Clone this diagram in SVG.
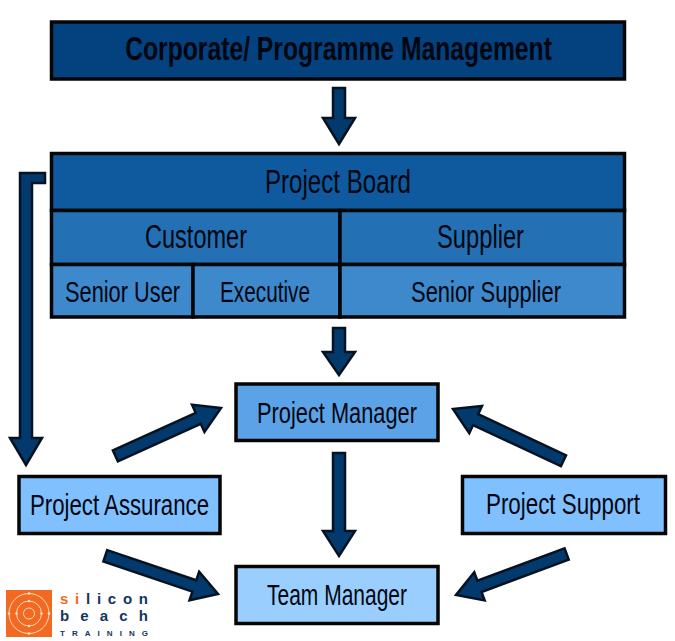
<svg xmlns="http://www.w3.org/2000/svg" width="675" height="641" viewBox="0 0 675 641">
<style>
.box{stroke:#050505;stroke-width:3.5}
.t{font-family:"Liberation Sans",Arial,sans-serif;fill:#00060f;text-anchor:middle}
.a{fill:#023a6e;stroke:#06121f;stroke-width:2.500;stroke-linejoin:miter}
.lg{font-family:"Liberation Sans",Arial,sans-serif;font-weight:700;fill:#12355f}
.d{fill:#fde6d6}
</style>
<rect width="675" height="641" fill="#fff"/>
<g id="corporate">
<rect class="box" x="51.500" y="22" width="573" height="57" fill="#03427f"/>
<text class="t" transform="translate(338.500,60) scale(0.75,1)" font-size="34" font-weight="700" textLength="569" lengthAdjust="spacingAndGlyphs">Corporate/ Programme Management</text>
</g>
<g id="project-board">
<rect class="box" x="51.500" y="153.500" width="573" height="57" fill="#0f5a9e"/>
<text class="t" x="338" y="193" font-size="34" textLength="146" lengthAdjust="spacingAndGlyphs">Project Board</text>
</g>
<g id="customer">
<rect class="box" x="51.500" y="210.500" width="288.500" height="54" fill="#2470b5"/>
<text class="t" x="196" y="248" font-size="33" textLength="102" lengthAdjust="spacingAndGlyphs">Customer</text>
</g>
<g id="supplier">
<rect class="box" x="340" y="210.500" width="284.500" height="54" fill="#2470b5"/>
<text class="t" x="480.500" y="248" font-size="33" textLength="87" lengthAdjust="spacingAndGlyphs">Supplier</text>
</g>
<g id="senior-user">
<rect class="box" x="51.500" y="264.500" width="141.500" height="52.500" fill="#3e88cc"/>
<text class="t" x="122.500" y="302" font-size="30" textLength="115" lengthAdjust="spacingAndGlyphs">Senior User</text>
</g>
<g id="executive">
<rect class="box" x="193" y="264.500" width="147" height="52.500" fill="#3e88cc"/>
<text class="t" x="265" y="302" font-size="30" textLength="90" lengthAdjust="spacingAndGlyphs">Executive</text>
</g>
<g id="senior-supplier">
<rect class="box" x="340" y="264.500" width="284.500" height="52.500" fill="#3e88cc"/>
<text class="t" x="486" y="302" font-size="30" textLength="150" lengthAdjust="spacingAndGlyphs">Senior Supplier</text>
</g>
<g id="project-manager">
<rect class="box" x="236" y="384" width="202" height="56.500" fill="#5ba3e6"/>
<text class="t" x="337" y="423" font-size="30" textLength="160" lengthAdjust="spacingAndGlyphs">Project Manager</text>
</g>
<g id="project-assurance">
<rect class="box" x="19" y="476.500" width="201" height="57" fill="#80c0ff"/>
<text class="t" x="119.500" y="515" font-size="30" textLength="179" lengthAdjust="spacingAndGlyphs">Project Assurance</text>
</g>
<g id="project-support">
<rect class="box" x="462.500" y="476.500" width="203" height="57" fill="#80c0ff"/>
<text class="t" transform="translate(563,514) scale(0.77,1)" font-size="30" textLength="200" lengthAdjust="spacingAndGlyphs">Project Support</text>
</g>
<g id="team-manager">
<rect class="box" x="236" y="566.500" width="202" height="57" fill="#99ceff"/>
<text class="t" x="337" y="605" font-size="30" textLength="140" lengthAdjust="spacingAndGlyphs">Team Manager</text>
</g>
<g id="connectors">
<polygon class="a" points="333,88 345,88 345,118 355,118 339,144 323,118 333,118"/>
<polygon class="a" points="333,328 345,328 345,352 355,352 339,375 323,352 333,352"/>
<polygon class="a" points="333,453 345,453 345,531 355,531 339,556 323,531 333,531"/>
<polygon class="a" points="45,173 45,183 32,183 32,438 42,438 26,465 10,438 20,438 20,173"/>
<polygon class="a" transform="translate(453,409) rotate(205.100)" points="-122,-6 -25,-6 -25,-15 0,0 -25,15 -25,6 -122,6"/>
<polygon class="a" transform="translate(456,595) rotate(159.700)" points="-118,-6 -25,-6 -25,-15 0,0 -25,15 -25,6 -118,6"/>
<polygon class="a" transform="translate(218,594) rotate(18.700)" points="-119,-6 -25,-6 -25,-15 0,0 -25,15 -25,6 -119,6"/>
<polygon class="a" transform="translate(221,408) rotate(-24.400)" points="-116,-6 -25,-6 -25,-15 0,0 -25,15 -25,6 -116,6"/>
</g>
<g id="logo">
<rect x="6" y="590" width="46" height="47" fill="#f26a21"/>
<g fill="none" stroke="#fbd9c2" stroke-width="1">
<circle cx="29" cy="613.500" r="20"/>
<circle cx="29" cy="613.500" r="12.500"/>
<circle cx="29" cy="613.500" r="5.500"/>
</g>
<circle class="d" cx="29" cy="593.500" r="1.300"/><circle class="d" cx="29" cy="633.500" r="1.300"/><circle class="d" cx="9" cy="613.500" r="1.300"/><circle class="d" cx="49" cy="613.500" r="1.300"/><circle class="d" cx="29" cy="601" r="1.200"/><circle class="d" cx="29" cy="626" r="1.200"/><circle class="d" cx="16.500" cy="613.500" r="1.200"/><circle class="d" cx="41.500" cy="613.500" r="1.200"/>
<text class="lg" x="60" y="604" font-size="15" textLength="88" lengthAdjust="spacing"><tspan fill="#f26a21">si</tspan>licon</text>
<text class="lg" x="60" y="621" font-size="15" textLength="88" lengthAdjust="spacing">beach</text>
<text class="lg" x="60" y="636" font-size="8" textLength="88" lengthAdjust="spacing">TRAINING</text>
</g>
</svg>
